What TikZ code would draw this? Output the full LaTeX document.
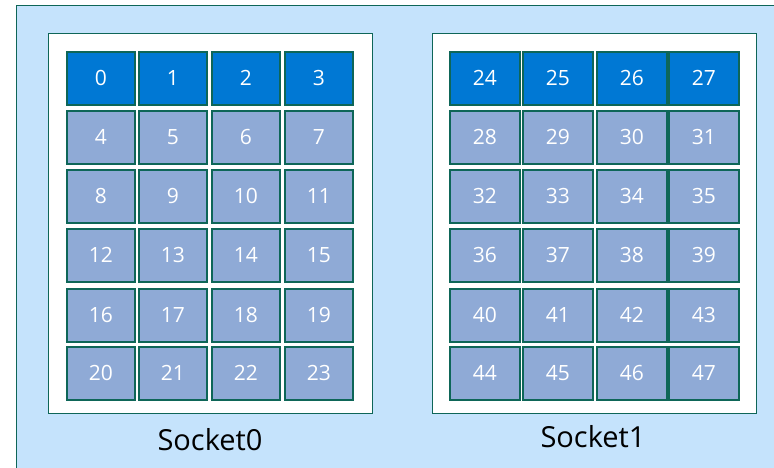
\documentclass[tikz,border=0pt]{standalone}
\usepackage{fontspec}
\setmainfont{Open Sans}
\definecolor{bgblue}{RGB}{197,227,252}
\definecolor{edge}{RGB}{14,102,88}
\definecolor{hot}{RGB}{0,120,212}
\definecolor{cool}{RGB}{143,170,214}
\tikzset{
  cell/.style={draw=edge, line width=1.6pt, minimum width=68pt, minimum height=53pt,
    inner sep=0pt, anchor=north west, text=white, font=\fontsize{21}{21}\selectfont},
  hotcell/.style={cell, fill=hot},
  coolcell/.style={cell, fill=cool},
  socketbox/.style={draw=edge, line width=1.4pt, fill=white, anchor=north west,
    minimum width=324pt, minimum height=380pt, inner sep=0pt},
  socketlabel/.style={font=\fontsize{29}{29}\selectfont, text=black}
}
\begin{document}
\begin{tikzpicture}[x=1pt,y=-1pt]
\useasboundingbox (0,0) rectangle (774,467);
\fill[white] (0,0) rectangle (774,467);
\draw[draw=edge, line width=1.6pt, fill=bgblue] (16.5,5.5) rectangle (790,480);
\node[socketbox] (s0) at (48,33) {};
\node[socketbox] (s1) at (432,33) {};
\node[socketlabel] (l0) at (210,440) {Socket0};
\node[socketlabel] (l1) at (593,437) {Socket1};
\foreach \r/\y in {0/51,1/110,2/169,3/228,4/288,5/346}{
  \foreach \c/\xa/\xb in {0/66/449,1/138/522,2/211/596,3/284/668}{
    \pgfmathtruncatemacro{\na}{\r*4+\c}
    \pgfmathtruncatemacro{\nb}{\r*4+\c+24}
    \ifnum\r=0
      \node[hotcell] (c\na) at (\xa,\y) {\na};
      \node[hotcell, minimum width=70pt] (c\nb) at (\xb,\y) {\nb};
    \else
      \node[coolcell] (c\na) at (\xa,\y) {\na};
      \node[coolcell, minimum width=70pt] (c\nb) at (\xb,\y) {\nb};
    \fi
  }
}
\end{tikzpicture}
\end{document}
